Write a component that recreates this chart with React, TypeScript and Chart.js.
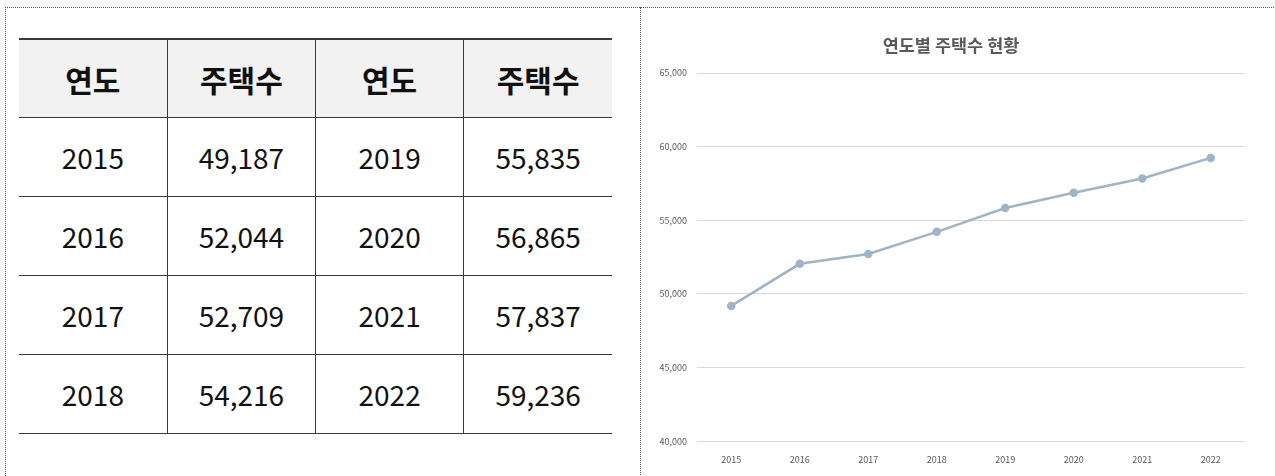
import React, { useEffect, useRef } from "react";
import { Chart, registerables } from "chart.js";

Chart.register(...registerables);

const years: string[] = ["2015", "2016", "2017", "2018", "2019", "2020", "2021", "2022"];
const houses: number[] = [49187, 52044, 52709, 54216, 55835, 56865, 57837, 59236];
const headers: string[] = ["연도", "주택수", "연도", "주택수"];
const chartTitle = "연도별 주택수 현황";
const yMin = 40000;
const yMax = 65000;
const yStep = 5000;

const fmt = (n: number) => n.toLocaleString("en-US");

const cellFont = "'Noto Sans CJK KR', 'Noto Sans', sans-serif";

function DataTable() {
  const half = Math.ceil(years.length / 2);
  const rows = Array.from({ length: half }, (_, i) => i);
  const thStyle: React.CSSProperties = {
    background: "#f2f2f2",
    fontWeight: 700,
    fontSize: 30,
    height: 77,
    borderTop: "2px solid #3a3a3a",
    borderBottom: "1px solid #3a3a3a",
    padding: 0,
    textAlign: "center",
    color: "#111",
    lineHeight: 1,
  };
  const tdStyle: React.CSSProperties = {
    fontSize: 28,
    height: 78,
    borderBottom: "1px solid #3a3a3a",
    padding: 0,
    textAlign: "center",
    color: "#111",
    lineHeight: 1,
  };
  const vline = "1px solid #3a3a3a";
  return (
    <table
      style={{
        position: "absolute",
        left: 19,
        top: 38,
        width: 593,
        borderCollapse: "collapse",
        tableLayout: "fixed",
        fontFamily: cellFont,
      }}
    >
      <thead>
        <tr>
          {headers.map((h, i) => (
            <th key={i} style={{ ...thStyle, borderLeft: i > 0 ? vline : "none" }}>
              {h}
            </th>
          ))}
        </tr>
      </thead>
      <tbody>
        {rows.map((i) => {
          const cells = [years[i], fmt(houses[i]), years[i + half], fmt(houses[i + half])];
          return (
            <tr key={i}>
              {cells.map((c, j) => (
                <td key={j} style={{ ...tdStyle, borderLeft: j > 0 ? vline : "none" }}>
                  {c}
                </td>
              ))}
            </tr>
          );
        })}
      </tbody>
    </table>
  );
}

const titlePlugin = {
  id: "offsetTitle",
  afterDraw(chart: any) {
    const ctx = chart.ctx;
    ctx.save();
    ctx.font = `bold 17.5px ${cellFont}`;
    ctx.fillStyle = "#595959";
    ctx.textAlign = "center";
    ctx.textBaseline = "middle";
    ctx.fillText(chartTitle, chart.width / 2, 37);
    ctx.restore();
  },
};

function LineChart() {
  const ref = useRef<HTMLCanvasElement | null>(null);
  useEffect(() => {
    if (!ref.current) return;
    const color = "#a0b4c8";
    const chart = new Chart(ref.current, {
      type: "line",
      data: {
        labels: years,
        datasets: [
          {
            data: houses,
            borderColor: color,
            backgroundColor: color,
            borderWidth: 2.5,
            pointRadius: 3,
            pointBackgroundColor: color,
            pointBorderColor: color,
            tension: 0,
          },
        ],
      },
      options: {
        animation: false,
        responsive: false,
        maintainAspectRatio: false,
        layout: { padding: { left: 0, right: 16, top: 65, bottom: 6 } },
        plugins: {
          legend: { display: false },
          tooltip: { enabled: false },
          title: { display: false },
        },
        scales: {
          x: {
            offset: true,
            grid: { display: false },
            border: { display: false },
            ticks: {
              color: "#595959",
              font: { family: cellFont, size: 9 },
              padding: 5,
              maxRotation: 0,
            },
          },
          y: {
            min: yMin,
            max: yMax,
            border: { display: false },
            grid: { color: "#d9d9d9", drawTicks: false, lineWidth: 1 },
            afterFit: (s: any) => {
              s.width = 56;
            },
            ticks: {
              stepSize: yStep,
              color: "#595959",
              font: { family: cellFont, size: 9 },
              padding: 10,
              callback: (v: any) => fmt(Number(v)),
            },
          },
        },
      },
      plugins: [titlePlugin],
    });
    return () => chart.destroy();
  }, []);
  return (
    <canvas
      ref={ref}
      width={620}
      height={468}
      style={{ position: "absolute", left: 641, top: 8, width: 620, height: 468 }}
    />
  );
}

export default function App() {
  return (
    <div
      style={{
        position: "fixed",
        left: 0,
        top: 0,
        width: 1275,
        height: 476,
        background: "#fff",
        overflow: "hidden",
      }}
    >
      <div
        style={{
          position: "absolute",
          left: 5,
          top: 7,
          width: 1290,
          height: 500,
          borderTop: "1px dotted #555",
          borderLeft: "1px dotted #555",
        }}
      />
      <div
        style={{
          position: "absolute",
          left: 640,
          top: 7,
          width: 0,
          height: 480,
          borderLeft: "1px dotted #555",
        }}
      />
      <DataTable />
      <LineChart />
    </div>
  );
}
